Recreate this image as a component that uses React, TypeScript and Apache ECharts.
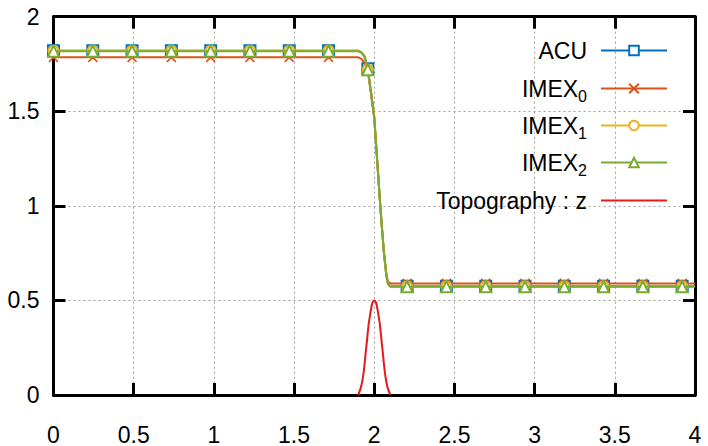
import React, { useEffect, useRef } from "react";
import * as echarts from "echarts";

// marker abscissae (every k-th grid point)
const markerX = [0, 0.245, 0.49, 0.735, 0.98, 1.225, 1.47, 1.715, 1.96, 2.205, 2.45, 2.695, 2.94, 3.185, 3.43, 3.675, 3.92];

// values at the marker abscissae
const acuMarkY = [1.82, 1.82, 1.82, 1.82, 1.82, 1.82, 1.82, 1.82, 1.725, 0.575, 0.575, 0.575, 0.575, 0.575, 0.575, 0.575, 0.575];
const imex0MarkY = [1.785, 1.785, 1.785, 1.785, 1.785, 1.785, 1.785, 1.785, 1.71, 0.59, 0.59, 0.59, 0.59, 0.59, 0.59, 0.59, 0.59];
const imex1MarkY = [1.82, 1.82, 1.82, 1.82, 1.82, 1.82, 1.82, 1.82, 1.72, 0.574, 0.574, 0.574, 0.574, 0.574, 0.574, 0.574, 0.574];
const imex2MarkY = [1.818, 1.818, 1.818, 1.818, 1.818, 1.818, 1.818, 1.818, 1.72, 0.572, 0.572, 0.572, 0.572, 0.572, 0.572, 0.572, 0.572];

// extra curve points (no marker) around the hydraulic jump
const stepX = [1.9, 1.92, 1.94, 1.98, 2.0, 2.02, 2.04, 2.06, 2.075, 2.085, 2.1, 4.0];
const acuStepY = [1.82, 1.812, 1.79, 1.6, 1.47, 1.22, 0.97, 0.755, 0.635, 0.59, 0.575, 0.575];
const imex0StepY = [1.785, 1.777, 1.755, 1.59, 1.46, 1.215, 0.97, 0.76, 0.645, 0.6, 0.59, 0.59];
const imex1StepY = [1.82, 1.812, 1.79, 1.6, 1.47, 1.22, 0.97, 0.755, 0.635, 0.588, 0.574, 0.574];
const imex2StepY = [1.818, 1.81, 1.788, 1.6, 1.47, 1.22, 0.97, 0.755, 0.633, 0.586, 0.572, 0.572];

// topography z(x)
const topoX = [1.9, 1.925, 1.95, 1.975, 2.0, 2.025, 2.05, 2.075, 2.1];
const topoZ = [0, 0.07, 0.25, 0.43, 0.5, 0.43, 0.25, 0.07, 0];

const seriesNames = ["ACU", "IMEX0", "IMEX1", "IMEX2", "Topography : z"];
const colors = ["#0072bd", "#d95319", "#edb120", "#77ac30", "#e41a1c"];

function build(markY: number[], sY: number[]) {
  const pts: any[] = [];
  markerX.forEach((x, i) => pts.push({ value: [x, markY[i]] }));
  stepX.forEach((x, i) => pts.push({ value: [x, sY[i]], symbol: "none" }));
  pts.sort((a, b) => a.value[0] - b.value[0]);
  return pts;
}

const FONT = "Liberation Sans";
const FS = 23;

export default function App() {
  const ref = useRef<HTMLDivElement>(null);
  useEffect(() => {
    const chart = echarts.init(ref.current!, null, { renderer: "svg" });
    const axisLine = { show: true, onZero: false, lineStyle: { color: "#000", width: 3 } };
    const tick = { show: true, inside: true, length: 12, lineStyle: { color: "#000", width: 3 } };
    const split = { show: true, lineStyle: { color: "#a0a0a0", width: 1, type: [2, 3] as any } };
    const label = { color: "#000", fontSize: FS, fontFamily: FONT };
    const mk = (name: string, idx: number, symbol: string, size: number, markY: number[], sY: number[], extra: any = {}) => ({
      name,
      type: "line",
      data: build(markY, sY),
      symbol,
      symbolSize: size,
      showSymbol: true,
      color: colors[idx],
      lineStyle: { color: colors[idx], width: 2 },
      itemStyle: { color: colors[idx], borderColor: colors[idx], borderWidth: 1.5, ...extra },
      z: 2 + idx,
    });
    const rowsTop = [34, 72, 109, 146, 184];
    const legendFormatter = (n: string) => {
      const m = n.match(/^IMEX(\d)$/);
      if (m) return `{m|IMEX}{s|${m[1]}}`;
      return `{m|${n}}`;
    };
    chart.setOption({
      animation: false,
      backgroundColor: "#fff",
      grid: { left: 53.5, right: 13, top: 16.7, bottom: 50, containLabel: false },
      xAxis: [
        { type: "value", min: 0, max: 4, interval: 0.5, axisLine, axisTick: tick, splitLine: split, axisLabel: { ...label, margin: 28 } },
        { type: "value", position: "top", min: 0, max: 4, interval: 0.5, axisLine, axisTick: tick, splitLine: { show: false }, axisLabel: { show: false } },
      ],
      yAxis: [
        { type: "value", min: 0, max: 2, interval: 0.5, axisLine, axisTick: tick, splitLine: split, axisLabel: { ...label, margin: 14, padding: [6, 0, 0, 0] } },
        { type: "value", position: "right", min: 0, max: 2, interval: 0.5, axisLine, axisTick: tick, splitLine: { show: false }, axisLabel: { show: false } },
      ],
      legend: seriesNames.map((n, i) => ({
        data: [n],
        orient: "horizontal",
        right: 35,
        top: rowsTop[i],
        align: "right",
        itemWidth: 66,
        itemHeight: 12,
        formatter: legendFormatter,
        selectedMode: false,
        ...(i === 4 ? { itemStyle: { opacity: 0 } } : {}),
        textStyle: {
          color: "#000",
          fontFamily: FONT,
          padding: [0, 9, 0, 0],
          rich: {
            m: { fontSize: FS, fontFamily: FONT, color: "#000", lineHeight: 32, verticalAlign: "middle" },
            s: { fontSize: 16, fontFamily: FONT, color: "#000", lineHeight: 16, verticalAlign: "bottom" },
          },
        },
      })),
      series: [
        mk("ACU", 0, "emptyRect", 11, acuMarkY, acuStepY),
        mk("IMEX0", 1, "path://M0,0L10,10M10,0L0,10", 9, imex0MarkY, imex0StepY, { color: "none" }),
        mk("IMEX1", 2, "emptyCircle", 10, imex1MarkY, imex1StepY),
        mk("IMEX2", 3, "emptyTriangle", 11, imex2MarkY, imex2StepY),
        {
          name: "Topography : z",
          type: "line",
          data: topoX.map((x, i) => [x, topoZ[i]]),
          smooth: true,
          symbol: "none",
          color: colors[4],
          lineStyle: { color: colors[4], width: 2 },
          z: 7,
        },
      ],
    });
    return () => chart.dispose();
  }, []);
  return <div ref={ref} style={{ position: "absolute", left: 0, top: 0, width: 708, height: 446 }} />;
}
